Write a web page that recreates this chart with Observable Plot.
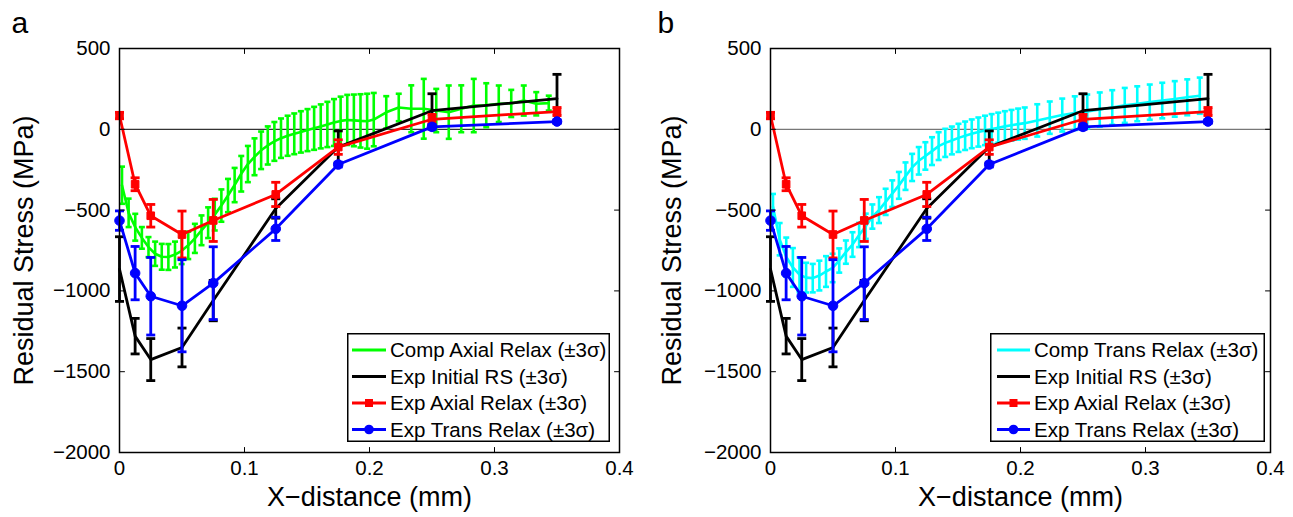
<!DOCTYPE html>
<html><head><meta charset="utf-8">
<script src="https://cdn.jsdelivr.net/npm/d3@7"></script>
<script src="https://cdn.jsdelivr.net/npm/@observablehq/plot@0.6"></script>
<style>
body{margin:0;background:#fff;font-family:"Liberation Sans",Arial,sans-serif;}
#wrap{position:relative;width:1293px;height:517px;display:flex;overflow:hidden;}
#wrap svg{flex-shrink:0;}
.leg{position:absolute;}
</style></head><body><div id="wrap"></div>
<script>
// ---------- data ----------
const xTicks = [0, 0.1, 0.2, 0.3, 0.4];
const yTicks = [500, 0, -500, -1000, -1500, -2000];

const expX = [0, 0.0125, 0.025, 0.05, 0.075, 0.125, 0.175, 0.25, 0.35];
const initialRS = [-865, -1280, -1425, -1350, -1060, -490, -110, 115, 190];
const initialErr = [200, 110, 130, 120, 125, 60, 100, 105, 150];
const axialRelax = [85, -340, -535, -651, -564, -403, -110, 62, 110];
const axialErr = [20, 40, 70, 145, 130, 75, 45, 30, 25];
const transRelax = [-565, -890, -1033, -1092, -952, -616, -218, 15, 48];
const transErr = [60, 165, 240, 285, 225, 72, 15, 15, 10];

const compX = [0.002, 0.0073, 0.0126, 0.0179, 0.0232, 0.0285, 0.0338, 0.0391, 0.0444, 0.0497,
  0.055, 0.0603, 0.0656, 0.0709, 0.0762, 0.0815, 0.0868, 0.0921, 0.0974, 0.1027,
  0.108, 0.1133, 0.1186, 0.1239, 0.1292, 0.1345, 0.1398, 0.1451, 0.1504, 0.1557,
  0.161, 0.1663, 0.1716, 0.1769, 0.1822, 0.1875, 0.1928, 0.1981, 0.2034,
  0.2134, 0.2234, 0.2334, 0.2434, 0.2534, 0.2634, 0.2734, 0.2834, 0.2934, 0.3034,
  0.3134, 0.3234, 0.3334, 0.3434];
const compAxial = [-346, -517, -606, -672, -729, -770, -789, -790, -775, -752,
  -718, -675, -625, -578, -528, -472, -410, -345, -275, -215,
  -170, -130, -100, -75, -55, -40, -28, -16, -5, 6,
  18, 30, 42, 52, 58, 55, 52, 50, 60,
  105, 135, 127, 127, 116, 106, 127, 147, 149, 158,
  160, 178, 158, 162];
const compAxialErr = [115, 88, 83, 67, 62, 75, 80, 80, 80, 82,
  85, 90, 92, 95, 98, 100, 103, 106, 110, 112,
  114, 116, 118, 120, 122, 124, 126, 128, 130, 133,
  136, 140, 145, 150, 155, 160, 165, 170, 165,
  100, 85, 145, 185, 134, 165, 145, 165, 136, 113,
  84, 93, 72, 46];
const compTrans = [-480, -680, -790, -855, -900, -918, -921, -905, -880, -858,
  -812, -760, -713, -654, -600, -540, -500, -449, -398, -347,
  -290, -236, -195, -165, -135, -104, -84, -69, -53, -40,
  -28, -17, -7, 2, 10, 18, 25, 32, 38,
  55, 72, 88, 100, 110, 122, 135, 148, 158, 168,
  178, 188, 198, 208];
const compTransErr = [80, 100, 120, 120, 108, 92, 88, 92, 95, 88,
  75, 72, 76, 75, 78, 75, 80, 81, 82, 83,
  85, 84, 85, 85, 86, 86, 87, 86, 87, 88,
  89, 90, 91, 92, 93, 94, 95, 96, 97,
  100, 100, 102, 104, 105, 106, 107, 108, 108, 109,
  110, 110, 111, 112];

const seriesNames = ["Exp Initial RS (\u00b13\u03c3)", "Exp Axial Relax (\u00b13\u03c3)", "Exp Trans Relax (\u00b13\u03c3)"];
const compNames = ["Comp Axial Relax (\u00b13\u03c3)", "Comp Trans Relax (\u00b13\u03c3)"];
const colors = {green: "#00ff00", cyan: "#00ffff", black: "#000000", red: "#ff0000", blue: "#0000ff"};

// ---------- helpers ----------
const table = (xs, ys, es) => xs.map((x, i) => ({x, y: ys[i], e: es[i]}));
const capSym = {draw(ctx, size) { const w = Math.sqrt(size / Math.PI); ctx.moveTo(-w, 0); ctx.lineTo(w, 0); }};
const tickShape = {draw(ctx, l) { ctx.moveTo(0, 0); ctx.lineTo(0, -l); }};

function errSeries(data, color, capR, sw, marker) {
  const m = [
    Plot.ruleX(data, {x: "x", y1: d => d.y - d.e, y2: d => d.y + d.e, stroke: color, strokeWidth: sw}),
    Plot.dot(data, {x: "x", y: d => d.y - d.e, symbol: capSym, r: capR, stroke: color, strokeWidth: sw, fill: "none"}),
    Plot.dot(data, {x: "x", y: d => d.y + d.e, symbol: capSym, r: capR, stroke: color, strokeWidth: sw, fill: "none"}),
    Plot.line(data, {x: "x", y: "y", stroke: color, strokeWidth: sw})
  ];
  if (marker === "square") m.push(Plot.dot(data, {x: "x", y: "y", symbol: "square", r: 4.3, fill: color, stroke: color, strokeWidth: 1}));
  if (marker === "circle") m.push(Plot.dot(data, {x: "x", y: "y", r: 4.8, fill: color, stroke: color, strokeWidth: 1}));
  return m;
}

function panel({letter, comp, compColor, zeroColor, width, marginLeft, marginRight, ylabDx}) {
  const initial = table(expX, initialRS, initialErr);
  const axial = table(expX, axialRelax, axialErr);
  const trans = table(expX, transRelax, transErr);
  return Plot.plot({
    width, height: 517, marginLeft, marginRight, marginTop: 48, marginBottom: 65,
    style: {fontFamily: "'Liberation Sans', Arial, sans-serif", fontSize: "20px", color: "#000", background: "#fff", overflow: "visible"},
    x: {domain: [0, 0.4]},
    y: {domain: [-2000, 500]},
    marks: [
      Plot.ruleY([0], {stroke: zeroColor, strokeWidth: 1}),
      ...errSeries(comp, compColor, 3, 2.6, null),
      ...errSeries(initial, colors.black, 4.5, 2.8, null),
      ...errSeries(axial, colors.red, 4.5, 2.8, "square"),
      ...errSeries(trans, colors.blue, 4.5, 2.8, "circle"),
      Plot.frame({stroke: "#000", strokeWidth: 1.5}),
      Plot.vector(xTicks, {x: d => d, frameAnchor: "bottom", length: 5, rotate: 0, anchor: "start", shape: tickShape, stroke: "#000", strokeWidth: 1}),
      Plot.vector(xTicks, {x: d => d, frameAnchor: "top", length: 5, rotate: 180, anchor: "start", shape: tickShape, stroke: "#000", strokeWidth: 1}),
      Plot.vector(yTicks, {y: d => d, frameAnchor: "left", length: 5, rotate: 90, anchor: "start", shape: tickShape, stroke: "#000", strokeWidth: 1}),
      Plot.vector(yTicks, {y: d => d, frameAnchor: "right", length: 5, rotate: -90, anchor: "start", shape: tickShape, stroke: "#000", strokeWidth: 1}),
      Plot.axisX(xTicks, {tickSize: 0, tickPadding: 8, fontSize: 20.5, tickFormat: d => String(d), label: null}),
      Plot.axisY(yTicks, {tickSize: 0, tickPadding: 9, fontSize: 20.5, tickFormat: d3.format("d"), label: null}),
      Plot.text(["X\u2212distance (mm)"], {frameAnchor: "bottom", dy: 45, text: d => d, fontSize: 27, textAnchor: "middle", lineAnchor: "middle"}),
      Plot.text(["Residual Stress (MPa)"], {frameAnchor: "left", dx: ylabDx, rotate: -90, text: d => d, fontSize: 27, textAnchor: "middle", lineAnchor: "middle"}),
      Plot.text([letter], {frameAnchor: "top-left", dx: -marginLeft + 11, dy: -25, text: d => d, fontSize: 30, textAnchor: "start", lineAnchor: "middle"})
    ]
  });
}

const wrap = document.getElementById("wrap");
wrap.appendChild(panel({letter: "a", comp: table(compX, compAxial, compAxialErr), compColor: colors.green, zeroColor: "#000", width: 646, marginLeft: 119, marginRight: 27, ylabDx: -95}));
wrap.appendChild(panel({letter: "b", comp: table(compX, compTrans, compTransErr), compColor: colors.cyan, zeroColor: "#555", width: 647, marginLeft: 124, marginRight: 23, ylabDx: -98}));

// ---------- legends ----------
function legend(left, top, w, h, compName, compColor, sampleX0, sampleX1, textX) {
  const svg = d3.select(wrap).append("svg").attr("class", "leg")
    .style("left", left + "px").style("top", top + "px")
    .attr("width", w).attr("height", h);
  svg.append("rect").attr("x", 0.75).attr("y", 0.75).attr("width", w - 1.5).attr("height", h - 1.5)
    .attr("fill", "#fff").attr("stroke", "#000").attr("stroke-width", 1.5);
  const items = [
    {name: compName, color: compColor, marker: null},
    {name: seriesNames[0], color: colors.black, marker: null},
    {name: seriesNames[1], color: colors.red, marker: "square"},
    {name: seriesNames[2], color: colors.blue, marker: "circle"}
  ];
  items.forEach((it, i) => {
    const cy = 17 + i * 26.5;
    svg.append("line").attr("x1", sampleX0).attr("x2", sampleX1).attr("y1", cy).attr("y2", cy)
      .attr("stroke", it.color).attr("stroke-width", 3);
    const mx = (sampleX0 + sampleX1) / 2;
    if (it.marker === "square") svg.append("rect").attr("x", mx - 4).attr("y", cy - 4).attr("width", 8).attr("height", 8).attr("fill", it.color);
    if (it.marker === "circle") svg.append("circle").attr("cx", mx).attr("cy", cy).attr("r", 4.8).attr("fill", it.color);
    svg.append("text").attr("x", textX).attr("y", cy).attr("dy", "0.35em")
      .attr("font-family", "'Liberation Sans', Arial, sans-serif").attr("font-size", 20.5).text(it.name);
  });
}
legend(347, 333, 263, 109, compNames[0], colors.green, 5, 39, 43);
legend(990, 333, 275, 109, compNames[1], colors.cyan, 7, 40, 44);
</script></body></html>
